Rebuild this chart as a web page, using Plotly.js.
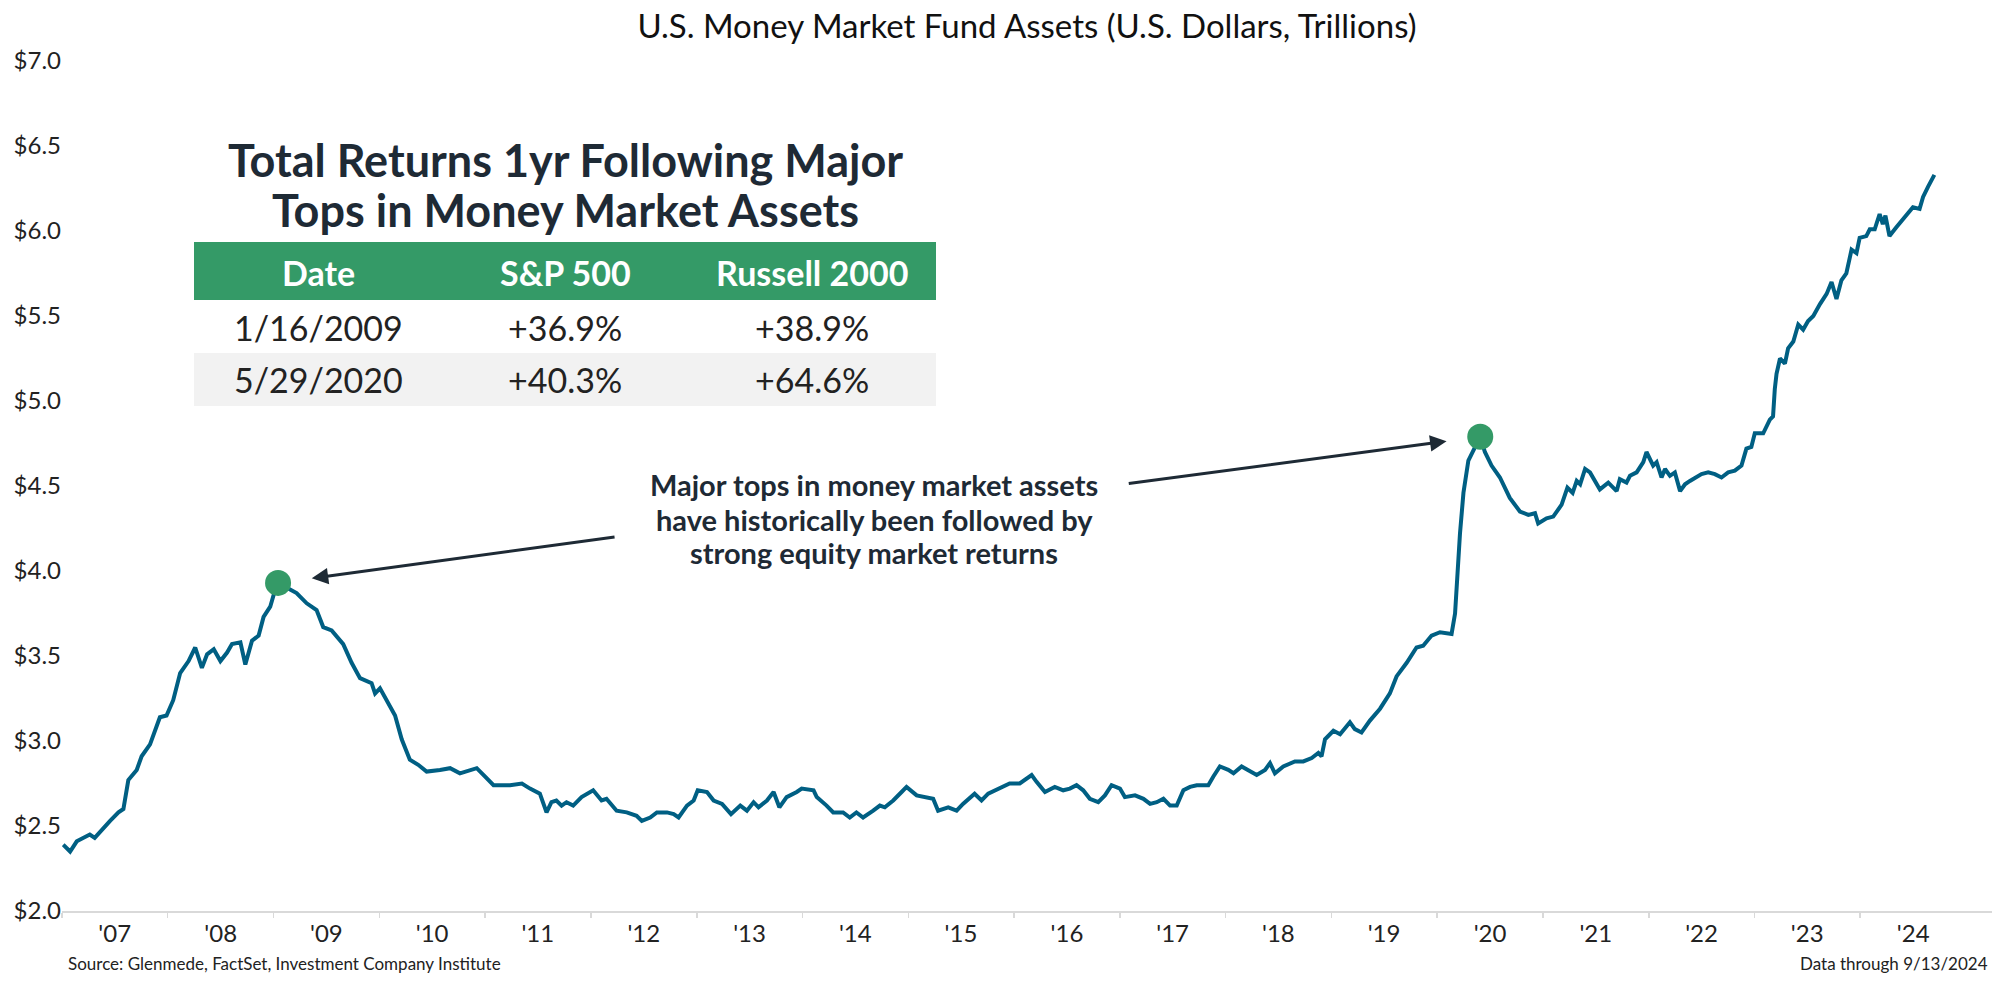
<!DOCTYPE html>
<html>
<head>
<meta charset="utf-8">
<script src="https://cdn.plot.ly/plotly-3.0.1.min.js"></script>
<style>
  body { margin: 0; background: #fff; }
  #chart { width: 2000px; height: 983px; }
</style>
</head>
<body>
<div id="chart"></div>
<script>
// weekly money market fund assets ($ trillions)
var dates = [
  "2007-01-05","2007-01-29","2007-02-21","2007-04-07","2007-04-24","2007-05-24","2007-06-16","2007-07-15",
  "2007-08-01","2007-08-18","2007-09-16","2007-10-03","2007-11-01","2007-12-05","2007-12-28","2008-01-20",
  "2008-02-13","2008-03-13","2008-04-05","2008-04-28","2008-05-16","2008-06-08","2008-07-01","2008-07-24",
  "2008-08-10","2008-09-08","2008-09-25","2008-10-18","2008-11-10","2008-11-27","2008-12-20","2009-01-06",
  "2009-01-16","2009-03-21","2009-04-25","2009-05-29","2009-06-21","2009-07-20","2009-08-29","2009-09-27",
  "2009-10-26","2009-12-05","2009-12-17","2010-01-03","2010-02-01","2010-02-24","2010-03-19","2010-04-16",
  "2010-05-15","2010-06-13","2010-07-29","2010-09-02","2010-10-06","2010-12-03","2011-01-01","2011-01-30",
  "2011-03-28","2011-05-08","2011-06-05","2011-07-09","2011-08-01","2011-08-18","2011-09-04","2011-09-22",
  "2011-10-09","2011-11-01","2011-11-30","2012-01-09","2012-02-07","2012-02-24","2012-03-30","2012-05-04",
  "2012-06-07","2012-06-25","2012-07-24","2012-08-16","2012-09-20","2012-10-13","2012-10-30","2012-11-28",
  "2012-12-21","2013-01-04","2013-02-05","2013-02-28","2013-03-29","2013-04-29","2013-05-31","2013-06-23",
  "2013-07-16","2013-08-02","2013-08-31","2013-09-23","2013-10-13","2013-11-07","2013-12-12","2013-12-29",
  "2014-02-08","2014-02-19","2014-03-25","2014-04-17","2014-05-21","2014-06-13","2014-07-06","2014-07-29",
  "2014-09-02","2014-09-25","2014-10-12","2014-11-10","2014-12-09","2014-12-26","2015-01-30","2015-03-05",
  "2015-03-28","2015-04-14","2015-05-19","2015-06-17","2015-07-09","2015-08-18","2015-09-11","2015-10-04",
  "2015-11-13","2015-12-17","2016-01-21","2016-03-02","2016-03-19","2016-04-17","2016-05-21","2016-06-19",
  "2016-07-12","2016-08-04","2016-08-27","2016-09-19","2016-10-18","2016-11-10","2016-12-03","2017-01-01",
  "2017-01-18","2017-02-22","2017-03-23","2017-04-15","2017-05-08","2017-05-31","2017-06-23","2017-07-16",
  "2017-08-08","2017-08-31","2017-09-23","2017-11-02","2017-11-19","2017-12-12","2018-01-10","2018-01-28",
  "2018-02-25","2018-03-26","2018-04-18","2018-05-17","2018-06-03","2018-06-20","2018-07-19","2018-08-28",
  "2018-09-26","2018-10-25","2018-11-17","2018-11-28","2018-12-10","2019-01-08","2019-01-31","2019-03-06",
  "2019-03-23","2019-04-15","2019-05-14","2019-06-18","2019-07-22","2019-08-14","2019-09-18","2019-10-22",
  "2019-11-14","2019-12-13","2020-01-11","2020-02-20","2020-03-03","2020-03-20","2020-04-01","2020-04-18",
  "2020-05-29","2020-06-14","2020-07-07","2020-08-05","2020-09-08","2020-10-13","2020-11-11","2020-12-04",
  "2020-12-15","2021-01-13","2021-02-05","2021-03-06","2021-03-26","2021-04-13","2021-04-27","2021-05-09",
  "2021-05-26","2021-06-12","2021-06-29","2021-07-16","2021-08-14","2021-09-12","2021-09-23","2021-10-16",
  "2021-10-28","2021-11-20","2021-12-13","2021-12-24","2022-01-16","2022-01-28","2022-02-14","2022-02-26",
  "2022-03-15","2022-04-01","2022-04-19","2022-05-06","2022-05-23","2022-06-15","2022-07-02","2022-07-25",
  "2022-08-17","2022-09-09","2022-10-02","2022-10-25","2022-11-17","2022-12-04","2022-12-21","2023-01-02",
  "2023-01-31","2023-02-23","2023-03-06","2023-03-12","2023-03-18","2023-03-30","2023-04-16","2023-04-27",
  "2023-05-15","2023-06-01","2023-06-18","2023-07-05","2023-07-23","2023-08-15","2023-09-07","2023-09-24",
  "2023-10-11","2023-10-28","2023-11-14","2023-12-02","2023-12-19","2023-12-30","2024-01-22","2024-02-03",
  "2024-02-20","2024-03-08","2024-03-19","2024-03-28","2024-04-11","2024-05-04","2024-06-02","2024-06-14",
  "2024-07-01","2024-07-24","2024-08-05","2024-08-22","2024-09-13"
];

var assets = [
  2.39, 2.35, 2.41, 2.45, 2.43, 2.49, 2.53, 2.58,
  2.60, 2.77, 2.83, 2.91, 2.98, 3.14, 3.15, 3.24,
  3.40, 3.47, 3.55, 3.43, 3.51, 3.54, 3.47, 3.52,
  3.57, 3.58, 3.45, 3.59, 3.62, 3.73, 3.79, 3.89,
  3.93, 3.87, 3.81, 3.77, 3.67, 3.65, 3.57, 3.46,
  3.37, 3.34, 3.28, 3.31, 3.22, 3.15, 3.01, 2.89,
  2.86, 2.82, 2.83, 2.84, 2.81, 2.84, 2.79, 2.74,
  2.74, 2.75, 2.72, 2.69, 2.58, 2.64, 2.65, 2.62,
  2.64, 2.62, 2.67, 2.71, 2.65, 2.66, 2.59, 2.58,
  2.56, 2.53, 2.55, 2.58, 2.58, 2.57, 2.55, 2.62,
  2.65, 2.71, 2.70, 2.65, 2.63, 2.57, 2.62, 2.59,
  2.64, 2.61, 2.65, 2.70, 2.61, 2.67, 2.70, 2.72,
  2.71, 2.67, 2.62, 2.58, 2.58, 2.55, 2.58, 2.55,
  2.59, 2.62, 2.61, 2.65, 2.70, 2.73, 2.68, 2.67,
  2.66, 2.59, 2.61, 2.59, 2.63, 2.69, 2.65, 2.69,
  2.72, 2.75, 2.75, 2.80, 2.76, 2.70, 2.73, 2.71,
  2.72, 2.74, 2.71, 2.66, 2.64, 2.68, 2.74, 2.72,
  2.67, 2.68, 2.66, 2.63, 2.64, 2.66, 2.62, 2.62,
  2.71, 2.73, 2.74, 2.74, 2.79, 2.85, 2.83, 2.81,
  2.85, 2.82, 2.80, 2.83, 2.87, 2.81, 2.85, 2.88,
  2.88, 2.90, 2.93, 2.91, 3.01, 3.06, 3.04, 3.11,
  3.07, 3.05, 3.12, 3.19, 3.28, 3.38, 3.46, 3.55,
  3.56, 3.62, 3.64, 3.63, 3.75, 4.22, 4.46, 4.65,
  4.79, 4.70, 4.62, 4.55, 4.43, 4.35, 4.33, 4.34,
  4.28, 4.31, 4.32, 4.39, 4.49, 4.46, 4.53, 4.51,
  4.60, 4.58, 4.53, 4.48, 4.52, 4.47, 4.54, 4.52,
  4.56, 4.58, 4.64, 4.70, 4.62, 4.64, 4.55, 4.60,
  4.56, 4.58, 4.47, 4.51, 4.53, 4.55, 4.57, 4.58,
  4.57, 4.55, 4.58, 4.59, 4.62, 4.72, 4.73, 4.81,
  4.81, 4.89, 4.91, 5.07, 5.16, 5.25, 5.22, 5.31,
  5.35, 5.45, 5.42, 5.47, 5.50, 5.57, 5.63, 5.70,
  5.60, 5.71, 5.75, 5.89, 5.87, 5.96, 5.97, 6.01,
  6.01, 6.10, 6.04, 6.09, 5.97, 6.02, 6.08, 6.11,
  6.14, 6.13, 6.20, 6.26, 6.33
];

// the two major tops
var topDates = ["2009-01-16", "2020-05-29"];
var topValues = [3.93, 4.79];

// table of returns after each top
var tableTitleLines = ["Total Returns 1yr Following Major", "Tops in Money Market Assets"];
var tableHeader = ["Date", "S&P 500", "Russell 2000"];
var tableRow1 = ["1/16/2009", "+36.9%", "+38.9%"];
var tableRow2 = ["5/29/2020", "+40.3%", "+64.6%"];

var calloutLines = ["Major tops in money market assets",
                    "have historically been followed by",
                    "strong equity market returns"];

var years = [2007, 2008, 2009, 2010, 2011, 2012, 2013, 2014, 2015,
             2016, 2017, 2018, 2019, 2020, 2021, 2022, 2023, 2024];
var yearLabels = years.map(function (y) { return "'" + String(y).slice(2); });
var yearMids = years.map(function (y) { return y + "-07-02"; });
var yearStarts = years.map(function (y) { return y + "-01-01"; });

// plot box in page pixels, used to place the table and notes
var L = 62, R = 1992, T = 61, B = 911;
function px(x) { return (x - L) / (R - L); }
function py(y) { return (B - y) / (B - T); }

var lineTrace = {
  x: dates,
  y: assets,
  type: "scatter",
  mode: "lines",
  line: { color: "#005f83", width: 4 },
  hoverinfo: "skip"
};

var topTrace = {
  x: topDates,
  y: topValues,
  type: "scatter",
  mode: "markers",
  marker: { color: "#349a67", size: 26 },
  hoverinfo: "skip"
};

var dark = "#1e2a35";
var annotations = [];
var shapes = [];

function addText(txt, x, y, size, color, weight, anchor) {
  annotations.push({
    xref: "paper", yref: "paper", x: px(x), y: py(y),
    xanchor: anchor || "center", yanchor: "middle", showarrow: false,
    text: txt,
    font: { family: "Lato", size: size, color: color, weight: weight || 400 }
  });
}

// table title
addText(tableTitleLines[0], 565, 160, 45, dark, 700);
addText(tableTitleLines[1], 565, 210, 45, dark, 700);

// header band and shaded second row
shapes.push({
  type: "rect", xref: "paper", yref: "paper", layer: "below",
  x0: px(194), x1: px(936), y0: py(300), y1: py(242),
  fillcolor: "#349a67", line: { width: 0 }
});
shapes.push({
  type: "rect", xref: "paper", yref: "paper", layer: "below",
  x0: px(194), x1: px(936), y0: py(406), y1: py(353),
  fillcolor: "#f2f2f2", line: { width: 0 }
});

var colX = [318, 565, 812];
tableHeader.forEach(function (c, i) { addText(c, colX[i], 272, 34, "#ffffff", 700); });
tableRow1.forEach(function (c, i) { addText(c, colX[i], 327, 34, "#222222"); });
tableRow2.forEach(function (c, i) { addText(c, colX[i], 380, 34, "#222222"); });

// callout text
addText(calloutLines[0], 874, 485, 29, dark, 700);
addText(calloutLines[1], 874, 519, 29, dark, 700);
addText(calloutLines[2], 874, 552, 29, dark, 700);

// arrows from the callout to each top
var arrowOffsets = [[338, -46], [-353, 47]];
topDates.forEach(function (d, i) {
  annotations.push({
    xref: "x", yref: "y", x: d, y: topValues[i],
    text: "", showarrow: true,
    ax: arrowOffsets[i][0], ay: arrowOffsets[i][1],
    arrowhead: 2, arrowsize: 1.1, arrowwidth: 3,
    arrowcolor: dark, standoff: 34
  });
});

// footnotes
addText("Source: Glenmede, FactSet, Investment Company Institute", 66, 964, 17, "#222222", 400, "left");
addText("Data through 9/13/2024", 1990, 964, 17, "#222222", 400, "right");

var layout = {
  width: 2000,
  height: 983,
  margin: { l: L, r: 2000 - R, t: T, b: 983 - B },
  paper_bgcolor: "#ffffff",
  plot_bgcolor: "#ffffff",
  showlegend: false,
  font: { family: "Lato", color: "#222222" },
  title: {
    text: "U.S. Money Market Fund Assets (U.S. Dollars, Trillions)",
    font: { family: "Lato", size: 33, color: "#111111" },
    xref: "paper", x: 0.5, xanchor: "center",
    yref: "container", y: 1 - 26 / 983, yanchor: "middle"
  },
  xaxis: {
    type: "date",
    range: ["2007-01-01", "2025-03-31"],
    tickmode: "array",
    tickvals: yearMids,
    ticktext: yearLabels,
    ticks: "",
    tickfont: { family: "Lato", size: 24, color: "#222222" },
    showgrid: false,
    zeroline: false,
    showline: true,
    linecolor: "#d9d9d9",
    linewidth: 2,
    minor: {
      tickmode: "array",
      tickvals: yearStarts,
      ticks: "outside",
      ticklen: 5,
      tickwidth: 1.5,
      tickcolor: "#d9d9d9",
      showgrid: false
    }
  },
  yaxis: {
    range: [2, 7],
    tick0: 2,
    dtick: 0.5,
    tickprefix: "$",
    tickformat: ".1f",
    ticks: "",
    tickfont: { family: "Lato", size: 24, color: "#222222" },
    showgrid: false,
    zeroline: false,
    showline: false
  },
  shapes: shapes,
  annotations: annotations
};

Plotly.newPlot("chart", [lineTrace, topTrace], layout, { displayModeBar: false, staticPlot: true });
</script>
</body>
</html>
